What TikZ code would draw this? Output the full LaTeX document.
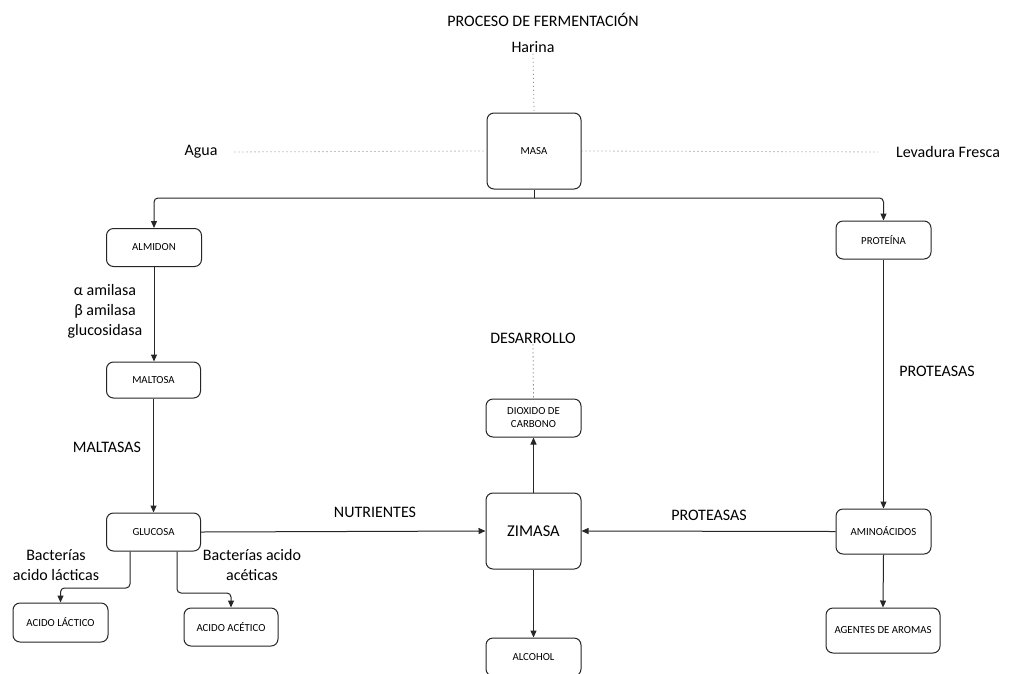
\documentclass[tikz,border=0pt]{standalone}
\usepackage{fontspec}
\setmainfont{Carlito}
\usetikzlibrary{arrows.meta}
\begin{document}
\begin{tikzpicture}[x=1pt,y=-1pt,
  box/.style={draw=black!85,line width=1pt,rounded corners=7pt,inner sep=0pt,
    align=center,font=\fontsize{10.8}{13}\selectfont},
  lbl/.style={inner sep=1pt,align=center,font=\fontsize{16}{20}\selectfont},
  arr/.style={draw=black!85,line width=1pt,-{Triangle[length=7pt,width=6pt]},rounded corners=4pt},
  ln/.style={draw=black!85,line width=1pt,rounded corners=4pt},
  dot/.style={draw=black!65,line width=0.8pt,dash pattern=on 0.8pt off 3.2pt}]
\useasboundingbox (0,0) rectangle (1011,673);
\fill[white] (0,0) rectangle (1011,673);
% labels
\node[lbl] (title) at (543,20) {PROCESO DE FERMENTACIÓN};
\node[lbl] (harina) at (533,47) {Harina};
\node[lbl] (agua) at (201,152) {Agua};
\node[lbl] (levadura) at (948,152) {Levadura Fresca};
\node[lbl] (enz) at (105,311) {α amilasa\\β amilasa\\glucosidasa};
\node[lbl] (maltasas) at (107,447) {MALTASAS};
\node[lbl] (baclac) at (56,565) {Bacterías\\acido lácticas};
\node[lbl] (bacace) at (252,565) {Bacterías acido\\acéticas};
\node[lbl] (nutr) at (375,512) {NUTRIENTES};
\node[lbl] (prot2) at (709,515) {PROTEASAS};
\node[lbl] (prot1) at (937,371) {PROTEASAS};
\node[lbl] (desa) at (533,338) {DESARROLLO};
% boxes
\node[box,minimum width=94pt,minimum height=76pt] (masa) at (534,151) {MASA};
\node[box,minimum width=95pt,minimum height=38pt] (almidon) at (154,247.5) {ALMIDON};
\node[box,minimum width=94pt,minimum height=36pt] (maltosa) at (153.5,380) {MALTOSA};
\node[box,minimum width=94pt,minimum height=38pt] (glucosa) at (153.5,532) {GLUCOSA};
\node[box,minimum width=95pt,minimum height=39pt] (lactico) at (60.5,622.5) {ACIDO LÁCTICO};
\node[box,minimum width=94pt,minimum height=38pt] (acetico) at (231,627) {ACIDO ACÉTICO};
\node[box,minimum width=95pt,minimum height=76pt,font=\fontsize{16.5}{19}\selectfont] (zimasa) at (533.5,531) {ZIMASA};
\node[box,minimum width=95pt,minimum height=38pt] (dioxido) at (533.5,418) {DIOXIDO DE\\CARBONO};
\node[box,minimum width=95pt,minimum height=38pt] (alcohol) at (533.5,657) {ALCOHOL};
\node[box,minimum width=95pt,minimum height=38pt] (proteina) at (883.5,240) {PROTEÍNA};
\node[box,minimum width=95pt,minimum height=45pt] (amino) at (883.5,531.5) {AMINOÁCIDOS};
\node[box,minimum width=114pt,minimum height=45pt] (agentes) at (883,630.5) {AGENTES DE AROMAS};
% dotted
\draw[dot] (harina.south) -- (masa.north);
\draw[dot,shorten <=16pt] (agua.east) -- (masa.west);
\draw[dot,shorten >=17pt] (masa.east) -- (levadura.west);
\draw[dot] (desa.south) -- (dioxido.north);
% connectors
\coordinate (split) at (534,198);
\draw[ln] (masa.south) -- (split);
\draw[arr] (split) -| (almidon.north);
\draw[arr] (split) -| (proteina.north);
\draw[arr] (almidon.south) -- (almidon.south |- maltosa.north);
\draw[arr] (maltosa.south) -- (glucosa.north);
\coordinate (l1) at (130,588);
\coordinate (a1) at (177,593);
\draw[arr] (glucosa.south -| l1) -- (l1) -| (lactico.north);
\draw[arr] (glucosa.south -| a1) -- (a1) -| (acetico.north);
\draw[arr] (glucosa.east) -- (zimasa.west);
\draw[arr] (amino.west) -- (zimasa.east);
\draw[arr] (zimasa.north) -- (dioxido.south);
\draw[arr] (zimasa.south) -- (alcohol.north);
\draw[arr] (proteina.south) -- (amino.north);
\draw[arr] (amino.south) -- (agentes.north);
\end{tikzpicture}
\end{document}
